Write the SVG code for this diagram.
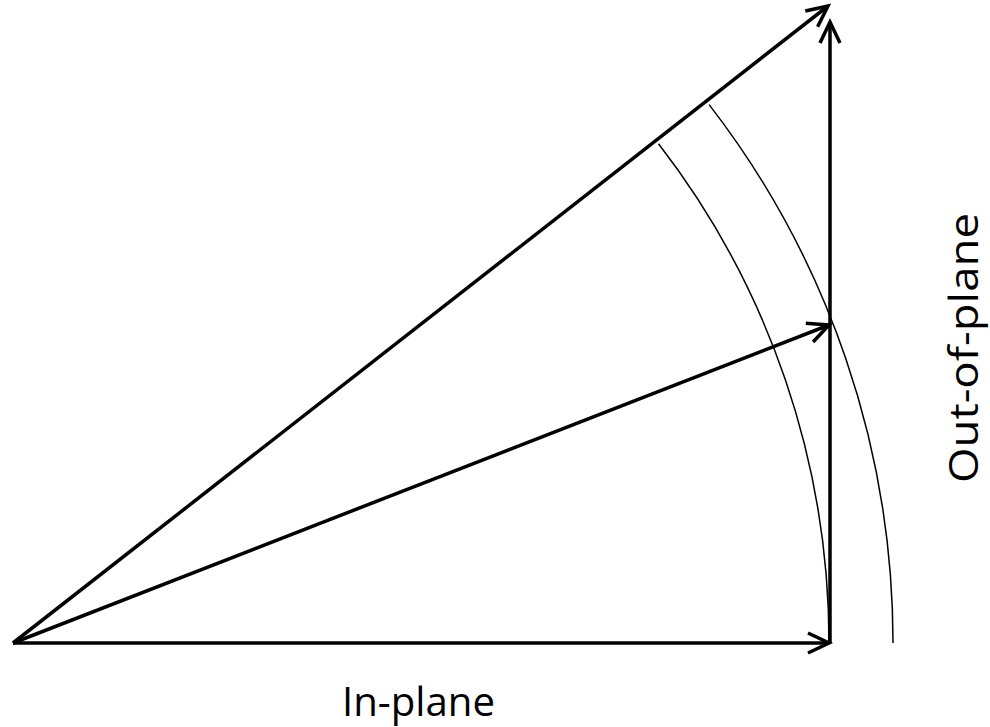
<svg xmlns="http://www.w3.org/2000/svg" width="990" height="727" viewBox="0 0 990 727">
<style>
.arrow{stroke:#000;stroke-width:3.5;fill:none;}
.arc{stroke:#000;stroke-width:1.5;fill:none;}
.lbl{font-family:"Open Sans","Liberation Sans",sans-serif;font-size:40px;fill:#000;}
</style>
<defs>
<marker id="head" markerUnits="userSpaceOnUse" markerWidth="30" markerHeight="30" viewBox="-25 -15 30 30" refX="0" refY="0" orient="auto" overflow="visible">
<path d="M-21,-10 L0,0 L-21,10" fill="none" stroke="#000" stroke-width="3.5" stroke-linejoin="miter"/>
</marker>
</defs>
<rect width="990" height="727" fill="#fff"/>
<g id="connectors">
<line class="arrow" x1="13" y1="643" x2="829" y2="643" marker-end="url(#head)"/>
<line class="arrow" x1="830" y1="643" x2="830" y2="22" marker-end="url(#head)"/>
<line class="arrow" x1="13" y1="643" x2="828" y2="6" marker-end="url(#head)"/>
<line class="arrow" x1="13" y1="643" x2="829" y2="325" marker-end="url(#head)"/>
</g>
<g id="arcs">
<path class="arc" d="M658.5,143.8 A816,816 0 0 1 829,643"/>
<path class="arc" d="M709.1,104.6 A880,880 0 0 1 893,643"/>
</g>
<g id="label-inplane">
<text class="lbl" x="342" y="716" textLength="153" lengthAdjust="spacingAndGlyphs">In-plane</text>
</g>
<g id="label-outofplane">
<text class="lbl" transform="translate(978,483) rotate(-90)" x="0" y="0" textLength="270" lengthAdjust="spacingAndGlyphs">Out-of-plane</text>
</g>
</svg>
